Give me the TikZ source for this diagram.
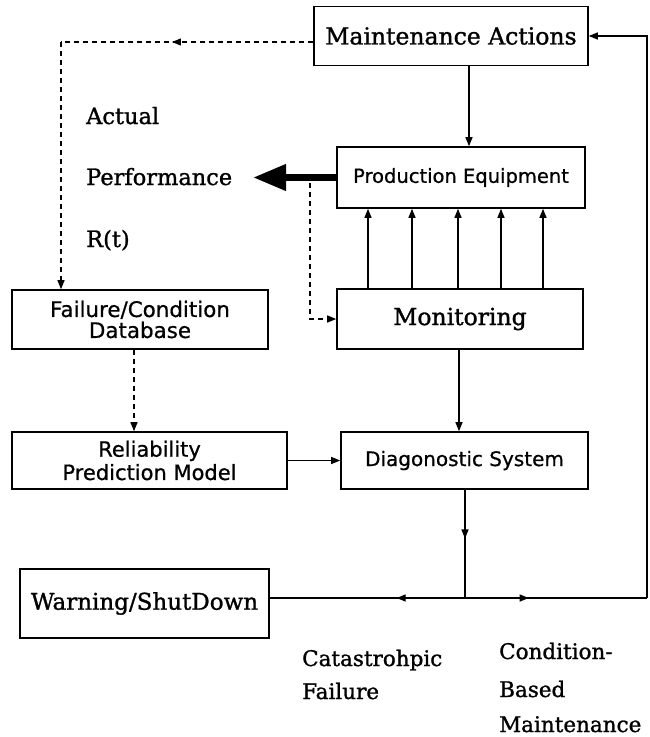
\documentclass[tikz,border=0pt]{standalone}
\usepackage{fontspec}
\setmainfont{DejaVu Serif}[FakeBold=1.2]
\setsansfont{DejaVu Sans}[FakeBold=0.7]
\usetikzlibrary{arrows.meta,decorations.markings}
\tikzset{
  serifbox/.style={draw, line width=1.6pt, inner sep=0pt, align=center,
    font=\fontsize{23.5}{28}\selectfont},
  sansbox/.style={draw, line width=1.6pt, inner sep=0pt, align=center,
    font=\sffamily\fontsize{20.5}{22.5}\selectfont},
  lbl/.style={inner sep=0pt, anchor=base west, font=\fontsize{22.5}{28}\selectfont},
  tip/.tip={Triangle[length=9pt,width=7pt]},
  conn/.style={line width=1.3pt, -tip},
  plain/.style={line width=1.3pt},
  dashline/.style={line width=1.3pt, dash pattern=on 5pt off 4pt},
  midarrow/.style={postaction={decorate}, decoration={markings,
    mark=at position #1 with {\arrow{tip}}}},
}
\begin{document}
\begin{tikzpicture}[x=1pt,y=-1pt]
\useasboundingbox (0,0) rectangle (650,737);

% boxes
\node[serifbox, minimum width=274pt, minimum height=59pt] (MA) at (451,36) {Maintenance Actions};
\node[sansbox, minimum width=248pt, minimum height=61pt, font=\sffamily\fontsize{19.5}{22}\selectfont] (PE) at (461,177.5) {Production Equipment};
\node[serifbox, minimum width=246pt, minimum height=60pt] (MON) at (460,319) {Monitoring};
\node[sansbox, minimum width=256pt, minimum height=59pt, font=\sffamily\fontsize{21.4}{21}\selectfont] (FCD) at (140,319.5) {Failure/Condition\\Database};
\node[sansbox, minimum width=275pt, minimum height=57pt, font=\sffamily\fontsize{21}{23.3}\selectfont] (RPM) at (149.5,460.5) {Reliability\\Prediction Model};
\node[sansbox, minimum width=247pt, minimum height=57pt, font=\sffamily\fontsize{20}{22}\selectfont] (DS) at (464.5,460.5) {Diagonostic System};
\node[serifbox, minimum width=249pt, minimum height=69pt, font=\fontsize{23}{28}\selectfont] (WS) at (144.5,603.5) {Warning/ShutDown};

% free labels
\node[lbl] (act) at (86,124) {Actual};
\node[lbl] (perf) at (86,185) {Performance};
\node[lbl] (rt) at (86,247) {R(t)};
\node[lbl, font=\fontsize{21.5}{28}\selectfont] (cat) at (302,666) {Catastrohpic};
\node[lbl, font=\fontsize{21.5}{28}\selectfont] (fail) at (302,699) {Failure};
\node[lbl, font=\fontsize{21.5}{28}\selectfont] (cbm1) at (499,659) {Condition-};
\node[lbl, font=\fontsize{21.5}{28}\selectfont] (cbm2) at (499,697) {Based};
\node[lbl, font=\fontsize{21.5}{28}\selectfont] (cbm3) at (499,732) {Maintenance};

% coordinates
\coordinate (J) at (465,598);
\coordinate (RC) at (647,598);
\coordinate (DC) at (61,42);
\coordinate (PT) at (253,177.5);
\coordinate (PD) at (310,183);

% connectors
\draw[conn] (469,0 |- MA.south) -- (469,0 |- PE.north);
\draw[line width=7pt, -{Triangle[length=33pt,width=25pt]}] (PE.west) -- (PT);
\foreach \x in {368,412,458,501,543}
  \draw[conn] (\x,0 |- MON.north) -- (\x,0 |- PE.south);
\draw[conn] (459,0 |- MON.south) -- (459,0 |- DS.north);
\draw[conn] (RPM.east) -- (DS.west);
\draw[dashline, -tip] (134,0 |- FCD.south) -- (134,0 |- RPM.north);
\draw[dashline, -tip] (PD) |- (MON.west);
\draw[dashline, midarrow=0.56] ([yshift=-6pt]MA.west) -- (DC);
\draw[dashline, -tip] (DC) -- (DC |- FCD.north);
\draw[plain, midarrow=0.45] (J |- DS.south) -- (J);
\draw[plain, midarrow=0.35] (J) -- (J -| WS.east);
\draw[plain, midarrow=0.35] (J) -- (RC);
\draw[conn] (RC) -- (RC |- MA.east) -- (MA.east);
\end{tikzpicture}
\end{document}
